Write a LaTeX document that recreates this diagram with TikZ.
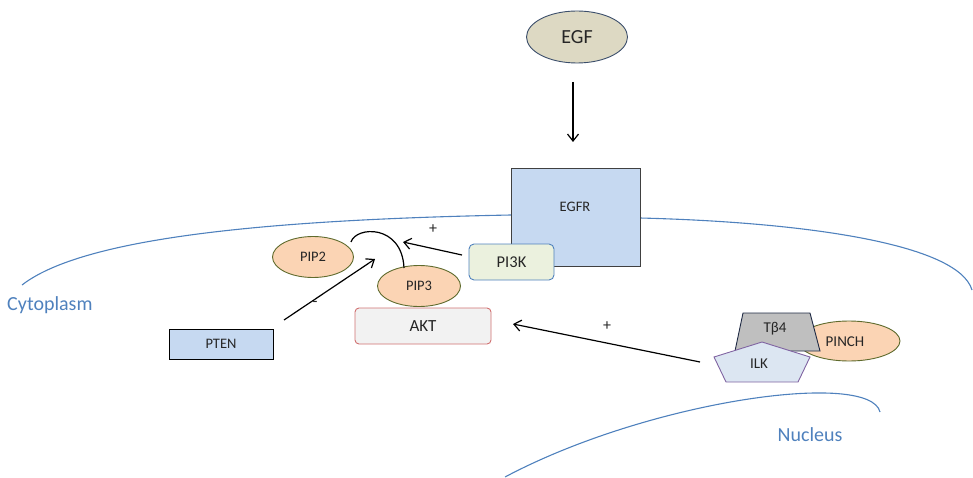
\documentclass[tikz,border=0pt]{standalone}
\usepackage{fontspec}
\setmainfont{Carlito}
\usetikzlibrary{arrows.meta,shapes.geometric}
\definecolor{memblue}{HTML}{4F81BD}
\definecolor{egffill}{HTML}{DDD9C3}
\definecolor{egfdraw}{HTML}{3B4E6B}
\definecolor{bluefill}{HTML}{C6D9F1}
\definecolor{darkline}{HTML}{404040}
\definecolor{pifill}{HTML}{EBF1DE}
\definecolor{pipfill}{HTML}{FBD4B4}
\definecolor{pipdraw}{HTML}{5F6B2D}
\definecolor{aktfill}{HTML}{F2F2F2}
\definecolor{aktdraw}{HTML}{D07070}
\definecolor{tbfill}{HTML}{BFBFBF}
\definecolor{tbdraw}{HTML}{1F2A44}
\definecolor{ilkfill}{HTML}{DCE6F2}
\definecolor{ilkdraw}{HTML}{8064A2}
\definecolor{txt}{HTML}{262626}
\newcommand\fsz[1]{\fontsize{#1}{#1}\selectfont}
\tikzset{
  ell/.style={ellipse, inner sep=0pt, line width=0.9pt, text=txt},
  boxnode/.style={rectangle, inner sep=0pt, line width=0.9pt, text=txt},
  arr/.style={-{Straight Barb[length=7pt,width=11pt]}, line width=1.2pt, black},
  mem/.style={memblue, line width=1.1pt},
  lbl/.style={text=txt, inner sep=0pt},
  region/.style={text=memblue, inner sep=0pt, font=\fsz{20}}
}
\begin{document}
\begin{tikzpicture}[x=1pt,y=-1pt]
\useasboundingbox (0,0) rectangle (973,478);
% membranes
\draw[mem] (22,285) .. controls (80,240) and (250,220) .. (511,215);
\draw[mem] (640,218) .. controls (800,222) and (958,243) .. (972,290);
\draw[mem] (505,477) .. controls (650,400) and (870,370) .. (880,412);
\node[region, anchor=west] (cyto) at (7,305) {Cytoplasm};
\node[region] (nuc) at (810,435) {Nucleus};
% EGF
\node[ell, fill=egffill, draw=egfdraw, minimum width=101, minimum height=52, font=\fsz{20}] (egf) at (577,37) {EGF};
\coordinate (egfa) at (573,82);
\coordinate (egfb) at (573,142);
\draw[arr] (egfa) -- (egfb);
% EGFR
\node[boxnode, fill=bluefill, draw=darkline, minimum width=129, minimum height=98] (egfr) at (575.5,217) {};
\node[lbl, font=\fsz{14.5}] (egfrt) at (575,207) {EGFR};
% PI3K
\node[boxnode, rounded corners=5pt, fill=pifill, draw=memblue, minimum width=85, minimum height=36, font=\fsz{16.5}] (pi3k) at (511.5,262) {PI3K};
% PIP2, PIP3
\node[ell, fill=pipfill, draw=pipdraw, minimum width=81, minimum height=41, font=\fsz{14.5}] (pip2) at (313,257) {PIP2};
\node[ell, fill=pipfill, draw=pipdraw, minimum width=83, minimum height=41, font=\fsz{14.5}] (pip3) at (419,286) {PIP3};
% AKT
\node[boxnode, rounded corners=4pt, fill=aktfill, draw=aktdraw, minimum width=136, minimum height=36, font=\fsz{17}] (akt) at (423,326) {AKT};
% PTEN
\node[boxnode, fill=bluefill, draw=black, minimum width=104, minimum height=30, font=\fsz{14.5}] (pten) at (221,344) {PTEN};
% PIP2 -> PIP3 conversion
\coordinate (convs) at (351,242);
\coordinate (conve) at (404,268);
\draw[line width=1.2pt] (convs) .. controls (356,226) and (402,224) .. (conve);
% PI3K arrow
\coordinate (pia) at (462,255);
\coordinate (pib) at (403,242);
\draw[arr] (pia) -- (pib);
\node[lbl, font=\fsz{16}] (plus1) at (433,229) {+};
% PTEN arrow
\coordinate (pta) at (284,320);
\coordinate (ptb) at (375,259);
\draw[arr] (pta) -- (ptb);
\node[lbl, font=\fsz{16}] (minus1) at (315,304) {-};
% PINCH, Tb4, ILK
\node[ell, fill=pipfill, draw=pipdraw, minimum width=102, minimum height=40] (pinch) at (849,341) {};
\node[lbl, font=\fsz{15}] (pincht) at (845,342) {PINCH};
\draw[fill=tbfill, draw=tbdraw, line width=0.9pt] (743,313) -- (810,313) -- (820,351) -- (735,351) -- cycle;
\node[lbl, font=\fsz{15}] (tb4) at (775,329) {Tβ4};
\draw[fill=ilkfill, draw=ilkdraw, line width=0.9pt] (762,342) -- (810,357) -- (798,382) -- (726,382) -- (714,357) -- cycle;
\node[lbl, font=\fsz{15}] (ilk) at (759,364) {ILK};
% ILK -> AKT
\coordinate (ilka) at (700,362);
\coordinate (ilkb) at (513,324);
\draw[arr] (ilka) -- (ilkb);
\node[lbl, font=\fsz{16}] (plus2) at (607,326) {+};
\end{tikzpicture}
\end{document}
